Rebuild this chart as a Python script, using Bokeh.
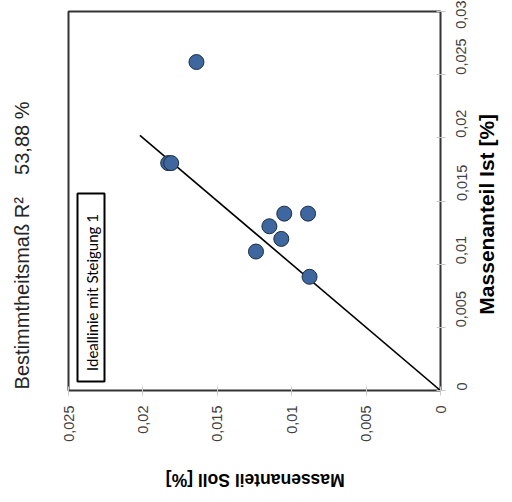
from math import pi
from bokeh.plotting import figure
from bokeh.models import Range1d, FixedTicker, CustomJSTickFormatter, Label, BoxAnnotation, LinearAxis
from bokeh.embed import file_html
from bokeh.resources import INLINE

# ---- data ----
soll = [0.0164, 0.0183, 0.0181, 0.0105, 0.0089, 0.0115, 0.0107, 0.0124, 0.0088]
ist = [0.0260, 0.0180, 0.0180, 0.0140, 0.0140, 0.0130, 0.0120, 0.0110, 0.0090]
ideal_x = [0.0, 0.0202]
ideal_y = [0.0, 0.0202]
x_ticks = [0, 0.005, 0.01, 0.015, 0.02, 0.025]
y_ticks = [0, 0.005, 0.01, 0.015, 0.02, 0.025, 0.03]
r2_label = "Bestimmtheitsmaß R²"
r2_value = "53,88 %"
legend_text = "Ideallinie mit Steigung 1"
x_title = "Massenanteil Soll [%]"
y_title = "Massenanteil Ist [%]"

# ---- layout ----
W, H = 512, 502
FL, FR, FT, FB = 68, 440, 11, 390
X0, X1 = 0.025, 0.0
Y0, Y1 = 0.0, 0.03
NB = "\u00a0"


def dx(px):
    return X0 + (px - FL) / (FR - FL) * (X1 - X0)


def dy(py):
    return Y0 + (FB - py) / (FB - FT) * (Y1 - Y0)


p = figure(width=W, height=H, x_range=Range1d(X0, X1), y_range=Range1d(Y0, Y1),
           x_axis_location="below", y_axis_location="right",
           output_backend="svg", toolbar_location=None,
           min_border_left=FL, min_border_right=W - FR,
           min_border_top=FT, min_border_bottom=H - FB)
p.outline_line_color = "#333333"
p.outline_line_width = 2
p.xgrid.visible = False
p.ygrid.visible = False
p.background_fill_color = "white"
p.border_fill_color = "white"

fmt = CustomJSTickFormatter(code="""
if (Math.abs(tick) < 1e-12) return '0';
return tick.toFixed(3).replace(/0+$/, '').replace('.', ',');
""")

for ax, ticks in ((p.xaxis[0], x_ticks), (p.yaxis[0], y_ticks)):
    ax.ticker = FixedTicker(ticks=ticks)
    ax.formatter = fmt
    ax.axis_line_color = None
    ax.major_tick_line_color = "#c8c8c8"
    ax.major_tick_in = 4
    ax.major_tick_out = 5
    ax.minor_tick_line_color = None
    ax.major_label_text_font = "Liberation Sans"
    ax.major_label_text_font_size = "14.5px"
    ax.major_label_text_color = "#404040"
    ax.major_label_orientation = pi / 2
    ax.axis_label_text_font = "Liberation Sans"
    ax.axis_label_text_font_style = "bold"
    ax.axis_label_text_color = "black"

xa = p.xaxis[0]
xa.major_label_standoff = 10
xa.axis_label = x_title + NB * 20
xa.axis_label_text_font_size = "17.5px"
xa.axis_label_orientation = pi
xa.axis_label_align = "end"
xa.axis_label_standoff = 35

ya = p.yaxis[0]
ya.major_label_standoff = 16
ya.axis_label = NB * 13 + y_title
ya.axis_label_text_font_size = "21px"
ya.axis_label_orientation = pi / 2
ya.axis_label_align = "start"
ya.axis_label_standoff = 12

left = LinearAxis(ticker=FixedTicker(ticks=[]), axis_line_color=None,
                  major_tick_line_color=None, minor_tick_line_color=None,
                  major_label_text_font_size="0px",
                  axis_label=r2_label + NB * 4 + r2_value + NB * 16,
                  axis_label_text_font="Liberation Sans",
                  axis_label_text_font_size="20px",
                  axis_label_text_font_style="normal",
                  axis_label_text_color="#262626",
                  axis_label_standoff=36)
p.add_layout(left, "left")

p.line(ideal_x, ideal_y, line_color="black", line_width=1.6)
p.scatter(soll, ist, size=15, fill_color="#3d679e", line_color="#1e2d40", line_width=1)

p.add_layout(BoxAnnotation(left=dx(77), right=dx(104), top=dy(193), bottom=dy(381),
                           fill_color="white", fill_alpha=1.0,
                           line_color="black", line_alpha=1.0, line_width=2))
p.add_layout(Label(x=dx(91), y=dy(292), text=legend_text, angle=pi / 2,
                   text_align="center", text_baseline="middle",
                   text_font="Lato", text_font_size="15px", text_color="black"))

open("out.html", "w").write(file_html(p, INLINE))
